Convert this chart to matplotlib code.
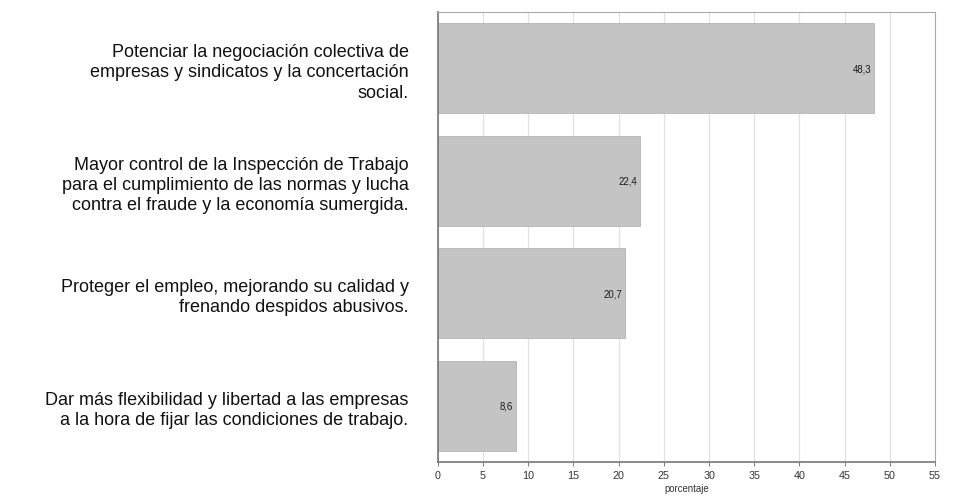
import matplotlib.pyplot as plt
from matplotlib import font_manager

# data
categorias = [
    "Potenciar la negociación colectiva de\nempresas y sindicatos y la concertación\nsocial.",
    "Mayor control de la Inspección de Trabajo\npara el cumplimiento de las normas y lucha\ncontra el fraude y la economía sumergida.",
    "Proteger el empleo, mejorando su calidad y\nfrenando despidos abusivos.",
    "Dar más flexibilidad y libertad a las empresas\na la hora de fijar las condiciones de trabajo.",
]
valores = [48.3, 22.4, 20.7, 8.6]
etiquetas = ["48,3", "22,4", "20,7", "8,6"]
ticks = list(range(0, 56, 5))

plt.rcParams['font.family'] = ['Liberation Sans', 'DejaVu Sans']

# condensed face for the small numbers, if available
nombres = {f.name for f in font_manager.fontManager.ttflist}
estrecha = 'Liberation Sans Narrow' if 'Liberation Sans Narrow' in nombres else 'Liberation Sans'
k = 1.0 if estrecha == 'Liberation Sans Narrow' else 0.82

fig = plt.figure(figsize=(9.6, 5.02), dpi=100)
ax = fig.add_axes([0.456, 0.078, 0.518, 0.896])

pos = list(range(len(valores)))
ax.barh(pos, valores, height=0.80, color='#c4c4c4', edgecolor='#b4b4b4',
        linewidth=0.6, zorder=2)
ax.set_ylim(len(valores) - 0.5, -0.5)
ax.set_xlim(0, 55)

for p, v, t in zip(pos, valores, etiquetas):
    ax.text(v - 0.3, p, t, ha='right', va='center', fontsize=8.5 * k,
            family=estrecha, color='#1a1a1a', zorder=3)

ax.set_yticks(pos)
ax.set_yticklabels(categorias, fontsize=13, color='#111111', linespacing=1.25)
ax.tick_params(axis='y', length=0, pad=21)

ax.set_xticks(ticks)
ax.set_xticklabels([str(t) for t in ticks], fontsize=9.5 * k, family=estrecha,
                   color='#333333')
ax.tick_params(axis='x', length=3, width=0.6, color='#666666', pad=3)
ax.set_xlabel('porcentaje', fontsize=8.5 * k, family=estrecha, color='#333333',
              labelpad=2)

ax.grid(axis='x', color='#e2e2e2', linewidth=0.9, zorder=0)
ax.set_axisbelow(True)

for s in ['top', 'right']:
    ax.spines[s].set_color('#aaaaaa')
    ax.spines[s].set_linewidth(0.8)
for s in ['left', 'bottom']:
    ax.spines[s].set_color('#777777')
    ax.spines[s].set_linewidth(1.2)

fig.savefig('out.png', dpi=100)
